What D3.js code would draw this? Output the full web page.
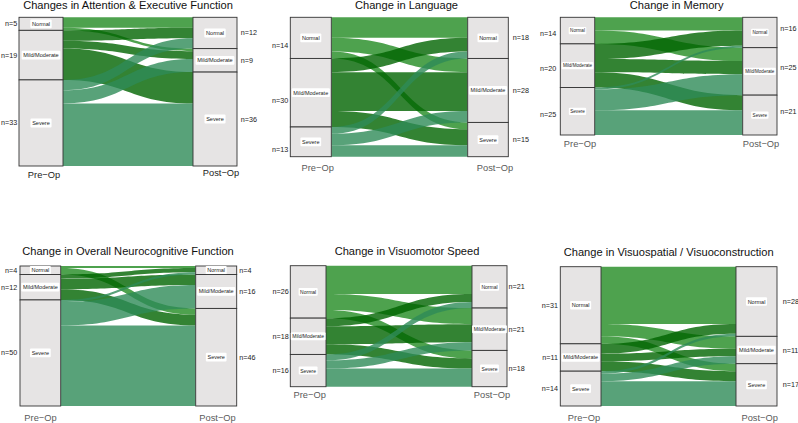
<!DOCTYPE html>
<html>
<head>
<meta charset="utf-8">
<script src="https://cdn.jsdelivr.net/npm/d3@7"></script>
<style>
  body { margin: 0; background: #fff; }
  svg text { font-family: "Liberation Sans", Arial, sans-serif; }
</style>
</head>
<body>
<div id="chart"></div>
<script>
// categories
var strata = ["Normal", "Mild/Moderate", "Severe"];
var axisNames = ["Pre\u2212Op", "Post\u2212Op"];
var titles = [
  "Changes in Attention & Executive Function",
  "Change in Language",
  "Change in Memory",
  "Change in Overall Neurocognitive Function",
  "Change in Visuomotor Speed",
  "Change in Visuospatial / Visuoconstruction"
];

// flows: rows = pre-op stratum, cols = post-op stratum (patients)
var attentionFlows = [[4, 1, 0], [4, 3, 12], [4, 5, 24]];
var languageFlows  = [[9, 6, 3], [6, 17, 7], [3, 5, 5]];
var memoryFlows    = [[7, 7, 0], [8, 7, 8], [1, 11, 13]];
var overallFlows   = [[1, 0, 3], [2, 5, 5], [1, 11, 38]];
var motorFlows     = [[14, 8, 4], [4, 9, 5], [3, 4, 9]];
var spatialFlows   = [[23, 5, 3], [4, 3, 4], [1, 3, 10]];

// n labels as printed
var attentionN = [[5, 19, 33], [12, 9, 36]];
var languageN  = [[14, 30, 13], [18, 28, 15]];
var memoryN    = [[14, 20, 25], [16, 25, 21]];
var overallN   = [[4, 12, 50], [4, 16, 46]];
var motorN     = [[26, 18, 16], [21, 21, 18]];
var spatialN   = [[31, 11, 14], [28, 11, 17]];

var flowColors = ["#228B22", "#006400", "#2E8B57"];

// layout of each panel (pixels)
var layout = [
  {lx0: 19, lx1: 63, rx0: 193, rx1: 237, y0: 17.3, y1: 166, tx: 128, ty: 9,
   preX: 44, preY: 177.5, postX: 221, postY: 175.5, axisColor: "#1a1a1a", lab: 5.6, gapL: 1.7, gapR: 3.7, shL: 0, shR: 0},
  {lx0: 290.3, lx1: 331.3, rx0: 467.7, rx1: 508.3, y0: 17.3, y1: 156.7, tx: 406.5, ty: 9,
   preX: 317.7, preY: 171, postX: 495, postY: 171, axisColor: "#5a5a5a", lab: 5.5, gapL: 2, gapR: 4.4, shL: 8, shR: 0},
  {lx0: 560.3, lx1: 594.7, rx0: 742.7, rx1: 777, y0: 17.3, y1: 135, tx: 676.7, ty: 9,
   preX: 580, preY: 146.5, postX: 761, postY: 146.5, axisColor: "#5a5a5a", lab: 4.6, gapL: 4, gapR: 3.3, shL: 3, shR: -4},
  {lx0: 20, lx1: 60.7, rx0: 195.7, rx1: 236.7, y0: 266, y1: 406, tx: 128, ty: 254.5,
   preX: 40.5, preY: 421, postX: 217.5, postY: 421, axisColor: "#5a5a5a", lab: 5.5, gapL: 2.7, gapR: 2.6, shL: 0, shR: 0},
  {lx0: 290.3, lx1: 326, rx0: 472, rx1: 507, y0: 265.7, y1: 386.7, tx: 407, ty: 254.5,
   preX: 309.7, preY: 398, postX: 492, postY: 398, axisColor: "#5a5a5a", lab: 5.0, gapL: 1.6, gapR: 1.5, shL: 0, shR: 0},
  {lx0: 560.3, lx1: 601, rx0: 736, rx1: 777, y0: 266.7, y1: 406, tx: 668.7, ty: 255.5,
   preX: 584, preY: 421, postX: 759.7, postY: 421, axisColor: "#5a5a5a", lab: 5.5, gapL: 2.3, gapR: 5.7, shL: 0, shR: 0}
];

var flowSets = [attentionFlows, languageFlows, memoryFlows, overallFlows, motorFlows, spatialFlows];
var nSets = [attentionN, languageN, memoryN, overallN, motorN, spatialN];

var svg = d3.select("#chart").append("svg")
  .attr("width", 798).attr("height", 423);

flowSets.forEach(function(m, p) {
  var L = layout[p];
  var g = svg.append("g");
  var total = d3.sum(m, function(r) { return d3.sum(r); });
  var y = d3.scaleLinear().domain([0, total]).range([L.y0, L.y1]);

  var preTot = m.map(function(r) { return d3.sum(r); });
  var postTot = [0, 1, 2].map(function(j) { return d3.sum(m, function(r) { return r[j]; }); });
  var preStart = d3.cumsum([0].concat(preTot));
  var postStart = d3.cumsum([0].concat(postTot));

  // lodes
  var links = [];
  var postOff = postStart.slice();
  m.forEach(function(row, i) {
    var off = preStart[i];
    row.forEach(function(v, j) {
      if (v > 0) {
        links.push({src: i, tgt: j, v: v, l0: off, r0: postOff[j]});
      }
      off += v;
    });
  });
  // right side stacking ordered by source
  [0, 1, 2].forEach(function(j) {
    var off = postStart[j];
    links.filter(function(d) { return d.tgt === j; })
      .sort(function(a, b) { return a.src - b.src; })
      .forEach(function(d) { d.r0 = off; off += d.v; });
  });

  var x0 = L.lx1, x1 = L.rx0, xm = (x0 + x1) / 2;
  g.selectAll("path.flow").data(links).enter().append("path")
    .attr("class", "flow")
    .attr("fill", function(d) { return flowColors[d.src]; })
    .attr("fill-opacity", 0.8)
    .attr("d", function(d) {
      var a0 = y(d.l0), a1 = y(d.l0 + d.v), b0 = y(d.r0), b1 = y(d.r0 + d.v);
      return "M" + x0 + "," + a0 + "C" + xm + "," + a0 + " " + xm + "," + b0 + " " + x1 + "," + b0 +
        "L" + x1 + "," + b1 + "C" + xm + "," + b1 + " " + xm + "," + a1 + " " + x0 + "," + a1 + "Z";
    });

  // strata boxes
  var cols = [
    {x0: L.lx0, x1: L.lx1, tot: preTot, st: preStart, n: nSets[p][0], side: 0},
    {x0: L.rx0, x1: L.rx1, tot: postTot, st: postStart, n: nSets[p][1], side: 1}
  ];
  cols.forEach(function(c) {
    strata.forEach(function(s, k) {
      var top = y(c.st[k]), bot = y(c.st[k] + c.tot[k]);
      g.append("rect")
        .attr("x", c.x0).attr("y", top)
        .attr("width", c.x1 - c.x0).attr("height", bot - top)
        .attr("fill", "#e6e4e4").attr("stroke", "#333").attr("stroke-width", 0.9);
      var cx = (c.x0 + c.x1) / 2, cy = (top + bot) / 2;
      var t = g.append("text")
        .attr("x", cx).attr("y", cy)
        .attr("text-anchor", "middle").attr("dominant-baseline", "central")
        .attr("font-size", L.lab + "px").attr("fill", "#222")
        .text(s);
      var w = t.node().getComputedTextLength();
      var pad = L.lab * 0.3;
      g.insert("rect", function() { return t.node(); })
        .attr("x", cx - w / 2 - pad).attr("y", cy - L.lab * 0.55 - pad * 0.8)
        .attr("width", w + 2 * pad).attr("height", L.lab * 1.1 + pad * 1.6)
        .attr("rx", 1).attr("fill", "#fff");
      // n label
      var sh = c.side === 0 ? L.shL : L.shR;
      g.append("text")
        .attr("x", c.side === 0 ? c.x0 - L.gapL : c.x1 + L.gapR)
        .attr("y", cy + sh)
        .attr("text-anchor", c.side === 0 ? "end" : "start")
        .attr("dominant-baseline", "central")
        .attr("font-size", "7.2px").attr("fill", "#1a1a1a")
        .text("n=" + c.n[k]);
    });
  });

  // axis names
  g.append("text").attr("x", L.preX).attr("y", L.preY)
    .attr("text-anchor", "middle").attr("font-size", "9.3px").attr("fill", L.axisColor)
    .text(axisNames[0]);
  g.append("text").attr("x", L.postX).attr("y", L.postY)
    .attr("text-anchor", "middle").attr("font-size", "9.3px").attr("fill", L.axisColor)
    .text(axisNames[1]);

  // title
  g.append("text").attr("x", L.tx).attr("y", L.ty)
    .attr("text-anchor", "middle").attr("font-size", "11.1px").attr("fill", "#111")
    .text(titles[p]);
});
</script>
</body>
</html>
